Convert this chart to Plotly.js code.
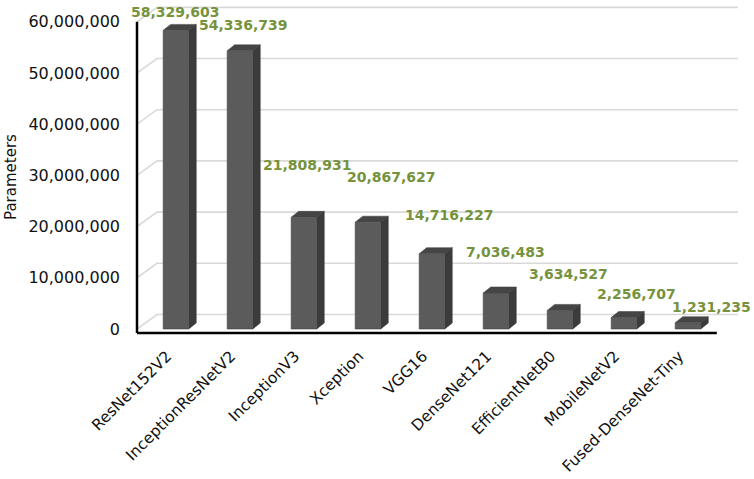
<!DOCTYPE html>
<html>
<head>
<meta charset="utf-8">
<script src="https://cdn.plot.ly/plotly-3.0.1.min.js"></script>
<style>
  html, body { margin: 0; padding: 0; background: #ffffff; }
  #chart { width: 754px; height: 479px; }
</style>
</head>
<body>
<div id="chart"></div>
<script>
// model names and parameter counts
const models = [
  "ResNet152V2", "InceptionResNetV2", "InceptionV3", "Xception", "VGG16",
  "DenseNet121", "EfficientNetB0", "MobileNetV2", "Fused-DenseNet-Tiny"
];
const params = [
  58329603, 54336739, 21808931, 20867627, 14716227,
  7036483, 3634527, 2256707, 1231235
];
const yTicks = [0, 10000000, 20000000, 30000000, 40000000, 50000000, 60000000];

// label placement nudges (px) to follow the 3D layout of the original
const labelShift = [[0, 18], [4, 26], [4, 52], [24, 45], [17, 39], [9, 41], [8, 36], [12, 23], [23, 16]];

// Block A – fake 3D geometry (axis units)
const xMin = -0.609, xMax = 8.781;
const yMin = -0.78e6, yMax = 63.48e6;
const barW = 0.4;
const depthX = 0.117, depthY = 1.17e6;   // bar depth
const wallX = 0.3125, wallY = 2.83e6;    // floor depth to back wall

const xs = models.map((m, i) => i);

const fx = v => (v - xMin) / (xMax - xMin);
const fy = v => (v - yMin) / (yMax - yMin);

// back wall gridlines (with the short diagonal on the side wall), kept below the bars
function buildWallGrid() {
  return yTicks.map(t => ({
    type: "path", xref: "x", yref: "y", layer: "below",
    path: "M " + xMin + "," + t +
          " L " + (xMin + wallX) + "," + (t + wallY) +
          " L " + xMax + "," + (t + wallY),
    line: { color: "#d9d9d9", width: 1.6 }
  }));
}

function buildSideFaces() {
  const sx = [], sy = [];
  params.forEach((v, i) => {
    const r = xs[i] + barW / 2;
    sx.push(r, r + depthX, r + depthX, r, null);
    sy.push(0, depthY, v + depthY, v, null);
  });
  return {
    x: sx, y: sy, mode: "lines", type: "scatter", fill: "toself",
    fillcolor: "#3b3b3b", line: { color: "#363636", width: 0.5 },
    hoverinfo: "skip", showlegend: false
  };
}

function buildTopFaces() {
  const tx = [], ty = [];
  params.forEach((v, i) => {
    const l = xs[i] - barW / 2, r = xs[i] + barW / 2;
    tx.push(l, l + depthX, r + depthX, r, null);
    ty.push(v, v + depthY, v + depthY, v, null);
  });
  return {
    x: tx, y: ty, mode: "lines", type: "scatter", fill: "toself",
    fillcolor: "#454545", line: { color: "#3a3a3a", width: 0.5 },
    hoverinfo: "skip", showlegend: false
  };
}

const frontFaces = {
  x: xs, y: params, type: "bar", width: barW,
  marker: { color: "#5b5b5b", line: { color: "#444444", width: 0.6 } },
  hoverinfo: "skip", showlegend: false
};

// Block B – data labels
const labels = params.map((v, i) => ({
  x: xs[i], y: v, xref: "x", yref: "y",
  text: v.toLocaleString("en-US"),
  showarrow: false, xanchor: "center", yanchor: "middle",
  xshift: labelShift[i][0], yshift: labelShift[i][1],
  font: { family: "DejaVu Sans", size: 14, color: "#76923c", weight: "bold" }
}));

labels.push({
  text: "Parameters", textangle: -90, showarrow: false,
  xref: "paper", yref: "paper", x: -126 / 601, y: fy(29.7e6),
  xanchor: "center", yanchor: "middle",
  font: { family: "DejaVu Sans", size: 15, color: "#111111" }
});

const layout = {
  width: 754, height: 479,
  margin: { l: 137, r: 16, t: 4, b: 146 },
  paper_bgcolor: "#ffffff", plot_bgcolor: "#ffffff",
  hovermode: false,
  font: { family: "DejaVu Sans", color: "#111111" },
  xaxis: {
    range: [xMin, xMax], tickvals: xs, ticktext: models,
    tickangle: -45, ticks: "", showgrid: false, zeroline: false, showline: false,
    ticklabelstandoff: 10, ticklabelshift: -9,
    tickfont: { family: "DejaVu Sans", size: 15.5, color: "#111111" }
  },
  yaxis: {
    range: [yMin, yMax], tickvals: yTicks, tickformat: ",d",
    ticks: "", showgrid: false, zeroline: false, showline: false,
    ticklabelstandoff: 16,
    tickfont: { family: "DejaVu Sans", size: 16, color: "#111111" }
  },
  shapes: buildWallGrid().concat([
    { type: "line", xref: "paper", yref: "paper", x0: 0, x1: 0, y0: 0, y1: fy(60000000),
      line: { color: "#000000", width: 2.5 } },
    { type: "line", xref: "paper", yref: "paper", x0: 0, x1: fx(models.length - 0.55), y0: 0, y1: 0,
      line: { color: "#000000", width: 2.5 } }
  ]),
  annotations: labels
};

Plotly.newPlot("chart", [frontFaces, buildSideFaces(), buildTopFaces()], layout, { staticPlot: true });
</script>
</body>
</html>
